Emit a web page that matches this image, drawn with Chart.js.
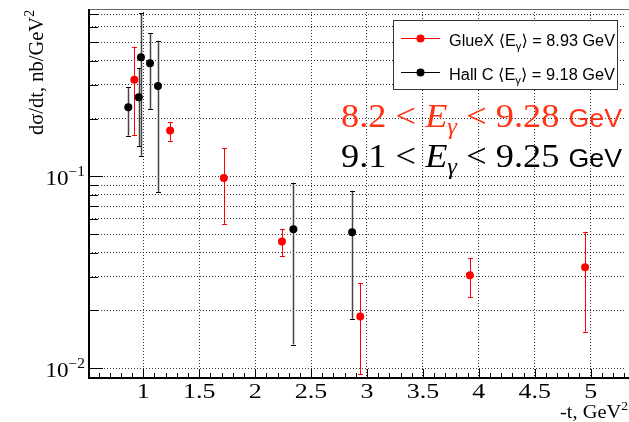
<!DOCTYPE html>
<html lang="en">
<head>
<meta charset="UTF-8">
<title>dsigma/dt vs -t</title>
<script src="https://cdn.jsdelivr.net/npm/chart.js"></script>
<style>
    * { margin: 0; padding: 0; box-sizing: border-box; }
    body { background: #fff; width: 629px; height: 422px; overflow: hidden; }
</style>
</head>
<body>
<canvas id="chart" width="629" height="422"></canvas>
<script>
// GlueX, <E> = 8.93 GeV
const gluexT  = [0.92, 1.24, 1.72, 2.24, 2.94, 3.92, 4.95];
const gluexY  = [0.318, 0.173, 0.098, 0.0458, 0.0186, 0.0305, 0.0336];
const gluexHi = [0.473, 0.192, 0.140, 0.0533, 0.0279, 0.0375, 0.0514];
const gluexLo = [0.164, 0.153, 0.0565, 0.0385, 0.0093, 0.0234, 0.0155];

// Hall C, <E> = 9.18 GeV
const hallcT  = [0.866, 0.959, 0.979, 1.06, 1.131, 2.342, 2.867];
const hallcY  = [0.229, 0.258, 0.417, 0.388, 0.295, 0.0530, 0.0511];
const hallcHi = [0.291, 0.368, 0.706, 0.556, 0.508, 0.0926, 0.0841];
const hallcLo = [0.163, 0.144, 0.128, 0.224, 0.083, 0.0133, 0.0181];

const xTicks = [1, 1.5, 2, 2.5, 3, 3.5, 4, 4.5, 5];
const xTickLabels = ['1', '1.5', '2', '2.5', '3', '3.5', '4', '4.5', '5'];
const yTicks = [0.01, 0.02, 0.03, 0.04, 0.05, 0.06, 0.07, 0.08, 0.09,
                0.1, 0.2, 0.3, 0.4, 0.5, 0.6, 0.7];
const yLabelTicks = [0.01, 0.1];
const yLabelExp = ['\u22122', '\u22121'];

const SERIF = '"Liberation Serif", "DejaVu Serif", serif';
const SANS = '"Liberation Sans", "DejaVu Sans", sans-serif';
const ANNOT_RED = '#ff3314';

function richWidth(ctx, parts) {
    let w = 0;
    parts.forEach(p => { ctx.font = p.font; w += ctx.measureText(p.t).width; });
    return w;
}

// draws a run of text pieces; opts.width squeezes/stretches it to that length
function drawRich(ctx, parts, x, y, opts) {
    const w = richWidth(ctx, parts);
    const sx = opts.width ? opts.width / w : (opts.sx || 1);
    ctx.save();
    ctx.translate(x, y);
    if (opts.rotate) ctx.rotate(opts.rotate);
    ctx.scale(sx, 1);
    let cx = opts.align === 'right' ? -w : opts.align === 'center' ? -w / 2 : 0;
    ctx.textAlign = 'left';
    ctx.textBaseline = 'alphabetic';
    parts.forEach(p => {
        ctx.font = p.font;
        ctx.fillStyle = p.color || opts.color || '#000';
        ctx.fillText(p.t, cx, p.dy || 0);
        cx += ctx.measureText(p.t).width;
    });
    ctx.restore();
}

function line(ctx, x1, y1, x2, y2) {
    ctx.beginPath(); ctx.moveTo(x1, y1); ctx.lineTo(x2, y2); ctx.stroke();
}

const rootStyle = {
    id: 'rootStyle',
    beforeDatasetsDraw(chart) {
        const ctx = chart.ctx, xs = chart.scales.x, ys = chart.scales.y;
        chart.data.datasets.forEach(ds => {
            ctx.save();
            ds.data.forEach((p, i) => {
                const px = Math.round(xs.getPixelForValue(p.x)) + 0.5;
                const yHi = ys.getPixelForValue(ds.errHi[i]);
                const yLo = Math.min(ys.getPixelForValue(ds.errLo[i]), chart.chartArea.bottom);
                ctx.strokeStyle = ds.errColor;
                ctx.lineWidth = ds.errWidth;
                line(ctx, px, yHi, px, yLo);
                ctx.strokeStyle = ds.borderColor;
                ctx.lineWidth = 1;
                line(ctx, px - 2.5, Math.round(yHi) + 0.5, px + 2.5, Math.round(yHi) + 0.5);
                line(ctx, px - 2.5, Math.round(yLo) + 0.5, px + 2.5, Math.round(yLo) + 0.5);
            });
            ctx.restore();
        });
    },
    afterDraw(chart) {
        const ctx = chart.ctx, xs = chart.scales.x, ys = chart.scales.y;
        const a = chart.chartArea;
        ctx.save();

        // frame (pad continues past the grid on the right)
        ctx.strokeStyle = '#666'; ctx.lineWidth = 1;
        line(ctx, a.left, a.top + 0.5, chart.width, a.top + 0.5);
        ctx.strokeStyle = '#000'; ctx.lineWidth = 2;
        line(ctx, a.left, a.top, a.left, a.bottom + 1);
        line(ctx, a.left - 1, a.bottom, chart.width, a.bottom);

        // ticks drawn inside the frame, ROOT style
        ctx.lineWidth = 1;
        for (let k = 6; k <= 53; k++) {
            const v = k / 10;
            const px = Math.round(xs.getPixelForValue(v)) + 0.5;
            const major = k % 5 === 0;
            line(ctx, px, a.bottom, px, a.bottom - (major ? 9 : 5));
        }
        yTicks.forEach(v => {
            const py = Math.round(ys.getPixelForValue(v)) + 0.5;
            const major = yLabelTicks.includes(v);
            line(ctx, a.left, py, a.left + (major ? 14 : 9), py);
        });

        // x tick labels
        xTicks.forEach((v, i) => {
            drawRich(ctx, [{ t: xTickLabels[i], font: '20px ' + SERIF }],
                xs.getPixelForValue(v), 398, { align: 'center', sx: 1.3 });
        });
        // y tick labels 10^n
        yLabelTicks.forEach((v, i) => {
            const py = ys.getPixelForValue(v);
            drawRich(ctx, [
                { t: '10', font: '21px ' + SERIF, dy: 8.5 },
                { t: yLabelExp[i], font: '14px ' + SERIF, dy: 0 }
            ], 85, py, { align: 'right', sx: 1.1 });
        });

        // axis titles
        drawRich(ctx, [
            { t: 'd\u03c3/dt, nb/GeV', font: '21px ' + SERIF },
            { t: '2', font: '14px ' + SERIF, dy: -9 }
        ], 43, 135, { rotate: -Math.PI / 2, width: 125 });
        drawRich(ctx, [
            { t: '-t, GeV', font: '18px ' + SERIF },
            { t: '2', font: '12px ' + SERIF, dy: -8 }
        ], 628, 418, { align: 'right', width: 68 });

        // legend
        ctx.fillStyle = '#fff';
        ctx.fillRect(393.5, 20.5, 224, 69);
        ctx.strokeStyle = '#333'; ctx.lineWidth = 1;
        ctx.strokeRect(393.5, 20.5, 224, 69);
        const rows = [38.5, 72.5];
        chart.data.datasets.forEach((ds, di) => {
            const ry = rows[di];
            ctx.strokeStyle = ds.borderColor; ctx.lineWidth = 1;
            line(ctx, 401, ry, 440, ry);
            ctx.fillStyle = ds.backgroundColor;
            ctx.beginPath(); ctx.arc(420.5, ry, 4, 0, Math.PI * 2); ctx.fill();
            drawRich(ctx, [
                { t: ds.label + ' \u27e8E', font: '16px ' + SANS },
                { t: '\u03b3', font: '11px ' + SANS, dy: 4 },
                { t: '\u27e9 = ' + ds.energy + ' GeV', font: '16px ' + SANS }
            ], 449, ry + 7.5, { width: 166 });
        });

        // energy range annotations
        const annot = [
            { lo: '8.2', hi: '9.28', color: ANNOT_RED, y: 126.7 },
            { lo: '9.1', hi: '9.25', color: '#000', y: 166.7 }
        ];
        annot.forEach(r => {
            drawRich(ctx, [
                { t: r.lo + ' < ', font: '34px ' + SERIF },
                { t: 'E', font: 'italic 34px ' + SERIF },
                { t: '\u03b3', font: 'italic 23px ' + SERIF, dy: 7 },
                { t: ' < ' + r.hi + ' ', font: '34px ' + SERIF },
                { t: 'GeV', font: '25px ' + SANS }
            ], 341, r.y, { width: 281, color: r.color });
        });
        ctx.restore();
    }
};

const gridOpts = { color: 'rgba(0,0,0,0.8)', lineWidth: 1, drawTicks: false };
const borderOpts = { display: false, dash: [1, 2] };

new Chart(document.getElementById('chart'), {
    type: 'scatter',
    data: {
        datasets: [
            {
                label: 'GlueX', energy: '8.93',
                data: gluexT.map((t, i) => ({ x: t, y: gluexY[i] })),
                errHi: gluexHi, errLo: gluexLo,
                backgroundColor: '#ff0000', borderColor: '#ff0000',
                errColor: '#ff0000', errWidth: 1,
                pointRadius: 4, borderWidth: 0
            },
            {
                label: 'Hall C', energy: '9.18',
                data: hallcT.map((t, i) => ({ x: t, y: hallcY[i] })),
                errHi: hallcHi, errLo: hallcLo,
                backgroundColor: '#000000', borderColor: '#000000',
                errColor: '#444444', errWidth: 1.5,
                pointRadius: 4, borderWidth: 0
            }
        ]
    },
    options: {
        responsive: false,
        animation: false,
        layout: { padding: { top: 9, right: 0, bottom: 0, left: 0 } },
        plugins: { legend: { display: false }, tooltip: { enabled: false } },
        scales: {
            x: {
                type: 'linear', min: 0.5145, max: 5.307,
                afterBuildTicks: s => { s.ticks = xTicks.map(v => ({ value: v })); },
                afterFit: s => { s.height = 44; },
                ticks: { display: false },
                grid: gridOpts, border: borderOpts
            },
            y: {
                type: 'logarithmic', min: 0.0089, max: 0.7438,
                afterBuildTicks: s => { s.ticks = yTicks.map(v => ({ value: v })); },
                afterFit: s => { s.width = 89; },
                ticks: { display: false },
                grid: gridOpts, border: borderOpts
            }
        }
    },
    plugins: [rootStyle]
});
</script>
</body>
</html>
